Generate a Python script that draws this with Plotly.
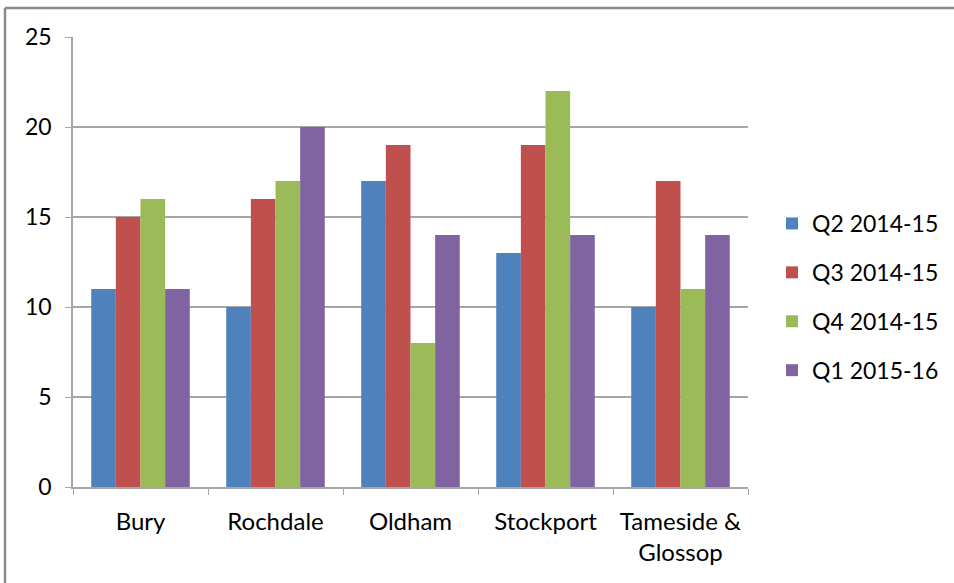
import plotly.graph_objects as go

categories = ["Bury", "Rochdale", "Oldham", "Stockport", "Tameside &<br>Glossop"]
series_names = ["Q2 2014-15", "Q3 2014-15", "Q4 2014-15", "Q1 2015-16"]
q2_2014 = [11, 10, 17, 13, 10]
q3_2014 = [15, 16, 19, 19, 17]
q4_2014 = [16, 17, 8, 22, 11]
q1_2015 = [11, 20, 14, 14, 14]
colors = ["#4F81BD", "#C0504D", "#9BBB59", "#8064A2"]

fig = go.Figure()
for name, vals, col in zip(series_names, [q2_2014, q3_2014, q4_2014, q1_2015], colors):
    fig.add_trace(go.Bar(x=categories, y=vals, name=name, marker_color=col,
                         marker_line_width=0, legendgroup=name))

W, H = 954, 583
l, r, t, b = 73, 206, 37, 96
pw, ph = W - l - r, H - t - b

fig.update_layout(
    width=W, height=H,
    margin=dict(l=l, r=r, t=t, b=b, pad=0, autoexpand=False),
    paper_bgcolor="white", plot_bgcolor="white",
    font=dict(family="Lato", size=23, color="#000000"),
    barmode="group", bargap=0.27, bargroupgap=0,
    showlegend=True,
    legend=dict(xref="container", yref="container", x=772 / W, xanchor="left",
                y=(H - 297) / H, yanchor="middle",
                tracegroupgap=16, font=dict(size=23), itemwidth=30,
                traceorder="grouped"),
    xaxis=dict(showgrid=False, showline=True, linecolor="#A6A6A6", linewidth=1.5,
               ticks="outside", tickson="boundaries", ticklen=6, tickcolor="#A6A6A6",
               tickfont=dict(size=24), ticklabelstandoff=12, fixedrange=True),
    yaxis=dict(range=[0, 25], dtick=5, showgrid=True, gridcolor="#A6A6A6", gridwidth=1.5,
               showline=True, linecolor="#A6A6A6", linewidth=1.5,
               ticks="outside", ticklen=6, tickcolor="#A6A6A6",
               tickfont=dict(size=23), ticklabelstandoff=9, zeroline=False, fixedrange=True),
)

# outer border of the screenshot frame
fig.add_shape(type="line", xref="paper", yref="paper",
              x0=(5 - l) / pw, x1=(5 - l) / pw, y0=-(H + 20 - 487) / ph, y1=(487 - 8) / ph,
              line=dict(color="#8C8C8C", width=2.5))
fig.add_shape(type="line", xref="paper", yref="paper",
              x0=(5 - l) / pw, x1=(W + 20 - l) / pw, y0=(487 - 8) / ph, y1=(487 - 8) / ph,
              line=dict(color="#8C8C8C", width=2.5))

fig.write_html("out.html")
